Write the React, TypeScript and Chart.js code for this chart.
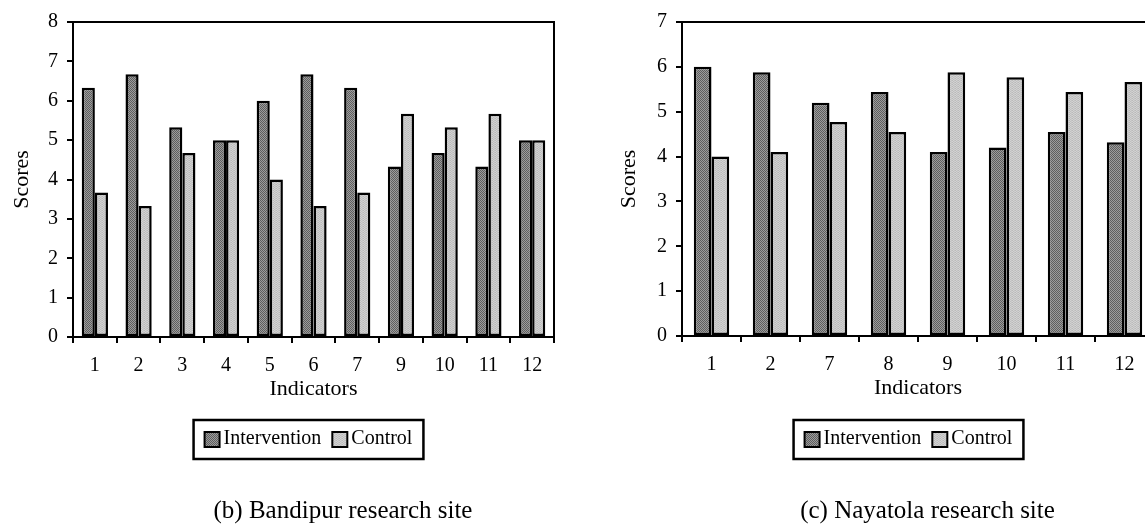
import React, { useEffect, useRef } from 'react';
import { Chart, registerables } from 'chart.js';

Chart.register(...registerables);

// ---- Data ----
const bandipurCategories = ['1', '2', '3', '4', '5', '6', '7', '9', '10', '11', '12'];
const bandipurIntervention = [6.33, 6.67, 5.33, 5.0, 6.0, 6.67, 6.33, 4.33, 4.67, 4.33, 5.0];
const bandipurControl = [3.67, 3.33, 4.67, 5.0, 4.0, 3.33, 3.67, 5.67, 5.33, 5.67, 5.0];
const bandipurMax = 8;

const nayatolaCategories = ['1', '2', '7', '8', '9', '10', '11', '12'];
const nayatolaIntervention = [6.0, 5.88, 5.2, 5.44, 4.1, 4.2, 4.55, 4.32];
const nayatolaControl = [4.0, 4.1, 4.77, 4.55, 5.88, 5.77, 5.44, 5.66];
const nayatolaMax = 7;

const seriesLabels = ['Intervention', 'Control'];
const axisTitleY = 'Scores';
const axisTitleX = 'Indicators';
const captions = ['(b) Bandipur research site', '(c) Nayatola research site'];

const FONT = '"Liberation Serif", "Times New Roman", serif';

function makePattern(cells: string[][]): CanvasPattern | string {
  const c = document.createElement('canvas');
  const h = cells.length;
  const w = cells[0].length;
  c.width = w;
  c.height = h;
  const g = c.getContext('2d');
  if (!g) return cells[0][0];
  for (let y = 0; y < h; y++) {
    for (let x = 0; x < w; x++) {
      g.fillStyle = cells[y][x];
      g.fillRect(x, y, 1, 1);
    }
  }
  const p = g.createPattern(c, 'repeat');
  return p || cells[0][0];
}

const extrasPlugin = {
  id: 'extras',
  afterDraw(chart: any, _args: any, opts: any) {
    const { ctx, chartArea } = chart;
    ctx.save();
    // plot frame
    ctx.strokeStyle = '#000';
    ctx.lineWidth = 2;
    ctx.strokeRect(chartArea.left, chartArea.top, chartArea.right - chartArea.left, chartArea.bottom - chartArea.top);

    // legend box
    ctx.font = `20px ${FONT}`;
    const ds = chart.data.datasets;
    const sq = 15;
    const gapText = 4;
    const gapItem = 11;
    const padX = 11;
    const widths = ds.map((d: any) => ctx.measureText(d.label).width);
    let total = 0;
    widths.forEach((w: number, i: number) => {
      total += sq + gapText + w + (i > 0 ? gapItem : 0);
    });
    const boxW = total + padX * 2;
    const boxH = 39;
    const boxX = opts.legendCx - boxW / 2;
    const boxY = opts.legendTop;
    ctx.lineWidth = 2.5;
    ctx.strokeRect(boxX, boxY, boxW, boxH);
    let x = boxX + padX;
    const cy = boxY + boxH / 2;
    ds.forEach((d: any, i: number) => {
      ctx.fillStyle = d.backgroundColor;
      ctx.fillRect(x, cy - sq / 2, sq, sq);
      ctx.lineWidth = 2;
      ctx.strokeStyle = '#000';
      ctx.strokeRect(x, cy - sq / 2, sq, sq);
      ctx.fillStyle = '#000';
      ctx.textAlign = 'left';
      ctx.textBaseline = 'middle';
      ctx.fillText(d.label, x + sq + gapText, cy - 1);
      x += sq + gapText + widths[i] + gapItem;
    });

    // caption
    ctx.font = `25px ${FONT}`;
    ctx.textAlign = 'center';
    ctx.textBaseline = 'alphabetic';
    ctx.fillStyle = '#000';
    ctx.fillText(opts.caption, opts.captionX, opts.captionBaseline);
    ctx.restore();
  },
};

type PanelProps = {
  left: number;
  categories: string[];
  intervention: number[];
  control: number[];
  max: number;
  yAxisWidth: number;
  padRight: number;
  plotBottom: number;
  yTitlePad: number;
  legendCx: number;
  captionX: number;
  caption: string;
};

const CANVAS_W = 580;
const CANVAS_H = 524;

function Panel(props: PanelProps) {
  const ref = useRef<HTMLCanvasElement | null>(null);
  useEffect(() => {
    const canvas = ref.current;
    if (!canvas) return;
    const dark = makePattern([
      ['#5e5e5e', '#9c9c9c'],
      ['#9c9c9c', '#5e5e5e'],
    ]);
    const light = makePattern([
      ['#bababa', '#d2d2d2', '#c4c4c4'],
      ['#d2d2d2', '#bfbfbf', '#cbcbcb'],
    ]);
    const xHeight = 70;
    const padBottom = CANVAS_H - props.plotBottom - xHeight;
    const chart = new Chart(canvas, {
      type: 'bar',
      data: {
        labels: props.categories,
        datasets: [
          {
            label: seriesLabels[0],
            data: props.intervention,
            backgroundColor: dark as any,
            borderColor: '#000',
            borderWidth: 2.5,
            borderSkipped: false,
            categoryPercentage: 0.6,
            barPercentage: 1.0,
          },
          {
            label: seriesLabels[1],
            data: props.control,
            backgroundColor: light as any,
            borderColor: '#000',
            borderWidth: 2.5,
            borderSkipped: false,
            categoryPercentage: 0.6,
            barPercentage: 1.0,
          },
        ],
      },
      options: {
        responsive: false,
        animation: false,
        layout: { padding: { left: 0, right: props.padRight, top: 22, bottom: padBottom } },
        plugins: {
          legend: { display: false },
          tooltip: { enabled: false },
          extras: {
            legendCx: props.legendCx,
            legendTop: 420,
            captionX: props.captionX,
            captionBaseline: 518,
            caption: props.caption,
          },
        } as any,
        scales: {
          x: {
            grid: {
              display: true,
              drawOnChartArea: false,
              drawTicks: true,
              tickLength: 6,
              color: '#000',
              lineWidth: 2,
              offset: true,
            },
            border: { display: true, color: '#000', width: 2 },
            ticks: {
              color: '#000',
              font: { family: FONT, size: 20 },
              padding: 11,
              autoSkip: false,
              maxRotation: 0,
            },
            title: {
              display: true,
              text: axisTitleX,
              color: '#000',
              font: { family: FONT, size: 22 },
              padding: { top: 0, bottom: 5 },
            },
            afterFit: (scale: any) => {
              scale.height = xHeight;
            },
          },
          y: {
            min: 0,
            max: props.max,
            grid: {
              display: true,
              drawOnChartArea: false,
              drawTicks: true,
              tickLength: 6,
              color: '#000',
              lineWidth: 2,
            },
            border: { display: true, color: '#000', width: 2 },
            ticks: {
              stepSize: 1,
              color: '#000',
              font: { family: FONT, size: 20 },
              padding: 9,
            },
            title: {
              display: true,
              text: axisTitleY,
              color: '#000',
              font: { family: FONT, size: 22 },
              padding: { top: props.yTitlePad, bottom: 0 },
            },
            afterFit: (scale: any) => {
              scale.width = props.yAxisWidth;
            },
          },
        },
      },
      plugins: [extrasPlugin],
    });
    return () => {
      chart.destroy();
    };
  }, []);
  return (
    <canvas
      ref={ref}
      width={CANVAS_W}
      height={CANVAS_H}
      style={{ position: 'absolute', left: props.left, top: 0, width: CANVAS_W, height: CANVAS_H, display: 'block' }}
    />
  );
}

export default function App() {
  return (
    <div
      style={{
        position: 'fixed',
        left: 0,
        top: 0,
        width: 1145,
        height: 524,
        overflow: 'hidden',
        background: '#fff',
      }}
    >
      <Panel
        left={0}
        categories={bandipurCategories}
        intervention={bandipurIntervention}
        control={bandipurControl}
        max={bandipurMax}
        yAxisWidth={73}
        padRight={CANVAS_W - 554}
        plotBottom={337}
        yTitlePad={9}
        legendCx={308.5}
        captionX={343}
        caption={captions[0]}
      />
      <Panel
        left={580}
        categories={nayatolaCategories}
        intervention={nayatolaIntervention}
        control={nayatolaControl}
        max={nayatolaMax}
        yAxisWidth={102}
        padRight={CANVAS_W - 574}
        plotBottom={336}
        yTitlePad={36}
        legendCx={328.5}
        captionX={347.5}
        caption={captions[1]}
      />
    </div>
  );
}
